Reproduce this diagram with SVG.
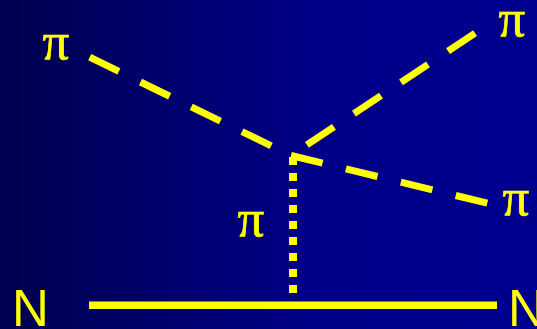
<svg xmlns="http://www.w3.org/2000/svg" width="537" height="329" viewBox="0 0 537 329">
  <defs>
    <linearGradient id="bg" x1="0" y1="0" x2="1" y2="0">
      <stop offset="0" stop-color="#000050"/>
      <stop offset="0.6" stop-color="#000088"/>
      <stop offset="1" stop-color="#000090"/>
    </linearGradient>
  </defs>
  <style>
    .pi { font-family: "Liberation Serif", "Times New Roman", serif; font-size: 53px; fill: #ffff00; stroke: #ffff00; stroke-width: 0.7; }
    .n { font-family: "Liberation Sans", Arial, sans-serif; font-size: 51px; fill: #ffff00; }
    .dash { stroke: #ffff00; stroke-width: 7; stroke-dasharray: 32.5 24; fill: none; }
    .dot { stroke: #ffff00; stroke-width: 8; stroke-dasharray: 8 8; fill: none; }
    .solid { stroke: #ffff00; stroke-width: 7.5; fill: none; }
  </style>
  <rect width="537" height="329" fill="url(#bg)"/>
  <g id="connectors">
    <line class="dash" x1="89.7" y1="57.2" x2="291" y2="155.5"/>
    <line class="dash" x1="475.1" y1="33.1" x2="291" y2="155.5"/>
    <line class="dash" x1="291" y1="155.5" x2="487.8" y2="203.3"/>
    <line class="dot" x1="293" y1="157" x2="293" y2="301"/>
    <line class="solid" x1="89" y1="305.3" x2="497" y2="305.3"/>
  </g>
  <g id="pi-in"><text class="pi" x="42.5" y="59">π</text></g>
  <g id="pi-out1"><text class="pi" x="498.5" y="36">π</text></g>
  <g id="pi-out2"><text class="pi" x="502.5" y="215">π</text></g>
  <g id="pi-exchange"><text class="pi" x="237.5" y="235.5">π</text></g>
  <g id="N-in"><text class="n" x="12" y="326">N</text></g>
  <g id="N-out"><text class="n" x="508" y="326">N</text></g>
</svg>
